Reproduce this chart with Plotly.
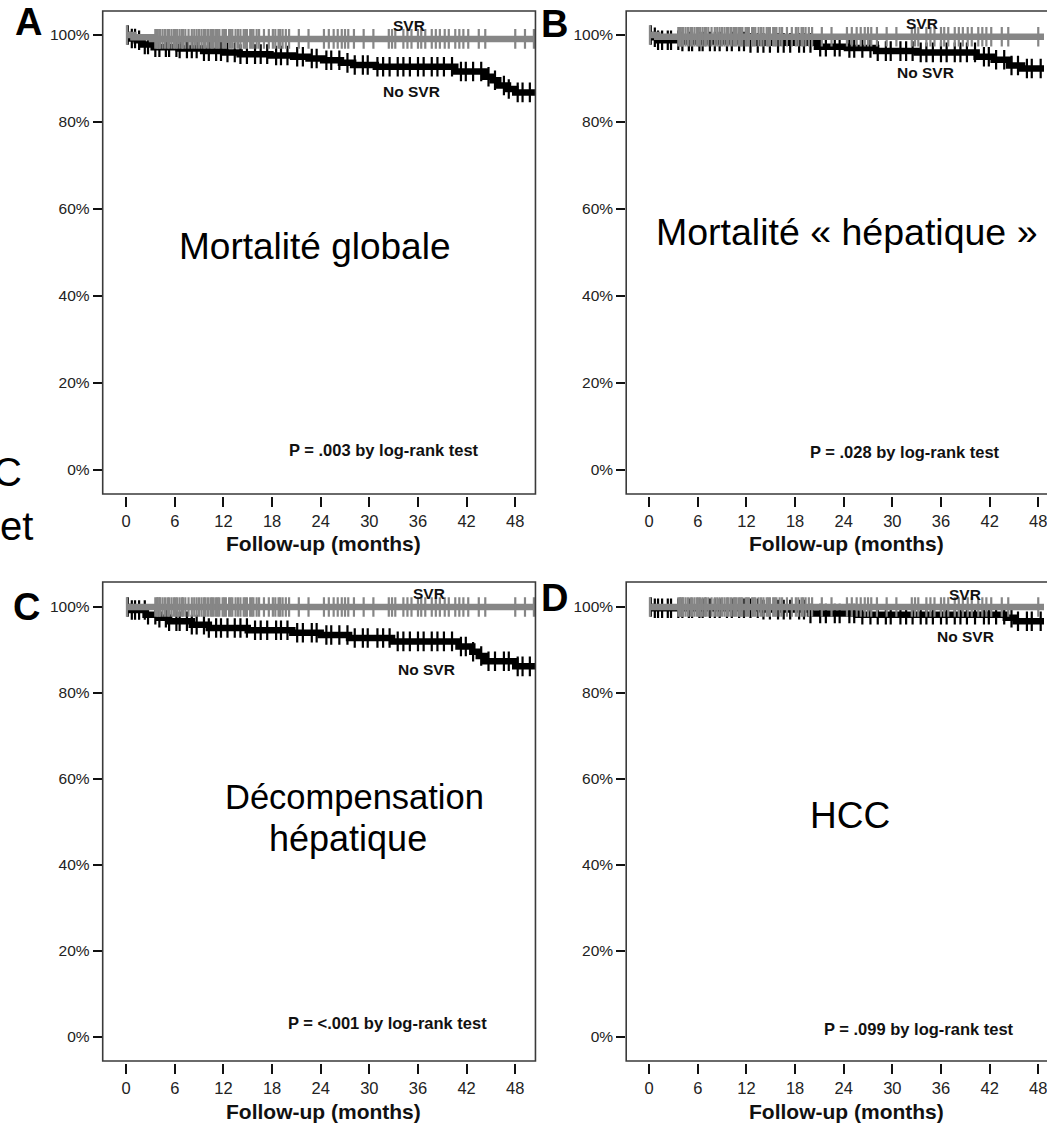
import numpy as np
import plotly.graph_objects as go

W, H = 1047, 1125
FONT = "Arial, 'Liberation Sans', sans-serif"

# ---------------- data ----------------
month_ticks = [0, 6, 12, 18, 24, 30, 36, 42, 48]
pct_ticks = [0, 20, 40, 60, 80, 100]
pct_labels = ["0%", "20%", "40%", "60%", "80%", "100%"]
follow_end = 50.5

# Kaplan-Meier steps (months, % event-free)
A_svr_t = [0, 0.9, 3.2]
A_svr_s = [100, 99.5, 99.1]
A_nosvr_t = [0, 0.4, 1.3, 1.9, 3.4, 6.5, 9.5, 12.0, 14.0, 17.8, 20.6, 22.5, 24.3, 26.5, 28.0,
             30.8, 40.6, 44.3, 45.2, 45.9, 47.1, 48.0]
A_nosvr_s = [100, 99.2, 98.8, 97.8, 97.2, 96.9, 96.3, 96.0, 95.6, 95.3, 95.0, 94.6, 94.2, 93.6, 93.1,
             92.7, 91.6, 90.4, 89.6, 88.4, 87.6, 86.8]

B_svr_t = [0, 1.0]
B_svr_s = [100, 99.6]
B_nosvr_t = [0, 0.5, 1.1, 4.0, 12.0, 20.7, 24.4, 28.0, 33.0, 40.4, 42.5, 44.4, 46.0]
B_nosvr_s = [100, 99.5, 98.8, 98.5, 98.2, 97.3, 97.0, 96.3, 96.0, 95.0, 94.3, 93.0, 92.3]

C_svr_t = [0]
C_svr_s = [100]
C_nosvr_t = [0, 0.5, 2.4, 4.0, 5.3, 8.1, 10.2, 15.0, 20.5, 24.0, 27.5, 32.8, 41.0, 42.7, 43.5,
             44.3, 48.0]
C_nosvr_s = [100, 99.3, 98.2, 97.5, 96.7, 95.9, 95.1, 94.6, 94.0, 93.5, 92.8, 92.0, 90.8, 89.6, 88.6,
             87.4, 86.2]

D_svr_t = [0]
D_svr_s = [100]
D_nosvr_t = [0, 0.5, 14.0, 19.9, 25.6, 44.0, 45.2]
D_nosvr_s = [100, 99.7, 99.4, 98.5, 98.2, 97.5, 96.7]

# censoring times (months)
svr_censor = [0.1, 3.6, 3.8, 3.9, 4.1, 4.2, 4.5, 4.8, 5.1, 5.3, 5.6, 5.9, 6.1, 6.3, 6.6, 6.9,
              7.0, 7.3, 7.7, 8.1, 8.4, 8.7, 9.0, 9.3, 9.6, 9.8, 10.1, 10.4, 10.6, 10.8, 11.1,
              11.3, 11.5, 11.9, 12.1, 12.3, 12.7, 12.9, 13.1, 13.5, 13.8, 14.1, 14.5, 14.7,
              14.9, 15.3, 15.5, 15.7, 16.1, 16.4, 17.0, 17.6, 18.1, 18.4, 18.8, 19.0, 19.3,
              19.7, 20.1, 21.3, 22.5, 24.4, 25.0, 25.6, 26.1, 26.6, 27.0, 27.4, 28.1, 29.3,
              30.5, 32.4, 32.8, 33.2, 34.2, 34.7, 35.2, 36.0, 36.4, 36.9, 37.7, 38.2, 38.7,
              39.3, 39.8, 40.6, 41.1, 41.6, 42.2, 43.5, 44.3, 48.0, 49.2, 50.3]
nosvr_censor = [0.2, 0.7, 1.1, 1.6, 2.3, 2.7, 3.6, 4.1, 4.9, 5.3, 6.2, 6.6, 7.5, 8.1, 8.7, 9.6,
                10.2, 11.1, 11.7, 12.5, 13.4, 14.1, 14.9, 15.9, 16.6, 17.4, 18.5, 19.1, 19.9,
                21.1, 21.8, 22.9, 23.5, 24.7, 25.3, 26.3, 27.3, 28.2, 29.2, 29.8, 31.0, 31.7,
                32.5, 33.5, 34.2, 35.0, 36.0, 36.7, 37.7, 38.4, 39.2, 40.2, 41.3, 41.9, 42.8,
                43.8, 44.7, 45.5, 46.6, 47.2, 48.3, 48.9, 49.8]

panel_letters = ["A", "B", "C", "D"]
p_texts = ["P = .003 by log-rank test", "P = .028 by log-rank test",
           "P = <.001 by log-rank test", "P = .099 by log-rank test"]
x_title = "Follow-up (months)"

curves = [
    (A_svr_t, A_svr_s, A_nosvr_t, A_nosvr_s),
    (B_svr_t, B_svr_s, B_nosvr_t, B_nosvr_s),
    (C_svr_t, C_svr_s, C_nosvr_t, C_nosvr_s),
    (D_svr_t, D_svr_s, D_nosvr_t, D_nosvr_s),
]

# ---------------- geometry (pixels) ----------------
PXM = 8.13          # px per month
panels = [
    # frame left/right/top/bottom, x of month 0, y of 100 %, y of 0 %
    dict(l=103, r=537, t=11, b=494, x0=126.5, y100=35, y0=470),
    dict(l=628, r=1063, t=11, b=494, x0=651, y100=35, y0=470),
    dict(l=103, r=537, t=582, b=1061, x0=126.5, y100=607, y0=1037),
    dict(l=628, r=1063, t=582, b=1061, x0=651, y100=607, y0=1037),
]

GREY = "#868686"
BLACK = "#000000"


def xp(px):
    return px / W


def yp(py):
    return 1 - py / H


def step_value(t, s, c):
    idx = np.searchsorted(np.array(t), np.array(c), side="right") - 1
    return np.array(s)[idx]


fig = go.Figure()
layout = {}
shapes = []
annotations = []

for i, (g, crv) in enumerate(zip(panels, curves)):
    n = "" if i == 0 else str(i + 1)
    xa, ya = "x" + n, "y" + n
    right_vis = min(g["r"], W)
    pxp = (g["y0"] - g["y100"]) / 100.0
    x_range = [(g["l"] - g["x0"]) / PXM, (right_vis - g["x0"]) / PXM]
    y_range = [(g["y0"] - g["b"]) / pxp, (g["y0"] - g["t"]) / pxp]

    layout["xaxis" + n] = dict(
        domain=[xp(g["l"]), xp(right_vis)], range=x_range, anchor="free",
        position=yp(g["b"] + 2), showline=False, showgrid=False, zeroline=False,
        tickvals=month_ticks, ticks="outside", ticklen=10, tickwidth=2, tickcolor="#111",
        ticklabeloverflow="allow",
        tickfont=dict(family=FONT, size=16.5, color="#222"), fixedrange=True)
    layout["yaxis" + n] = dict(
        domain=[yp(g["b"]), yp(g["t"])], range=y_range, anchor=xa,
        showline=False, showgrid=False, zeroline=False,
        tickvals=pct_ticks, ticktext=pct_labels, ticks="outside", ticklen=9,
        tickwidth=2, tickcolor="#111",
        tickfont=dict(family=FONT, size=15.5, color="#222"), fixedrange=True)

    st, ss, nt, ns = crv
    for t, s, cens, col in [(nt, ns, nosvr_censor, BLACK), (st, ss, svr_censor, GREY)]:
        fig.add_trace(go.Scatter(
            x=list(t) + [follow_end], y=list(s) + [s[-1]], mode="lines",
            line=dict(color=col, width=6.5, shape="hv"), xaxis=xa, yaxis=ya,
            showlegend=False, hoverinfo="skip"))
        cx = [c for c in cens if c <= follow_end]
        fig.add_trace(go.Scatter(
            x=cx, y=step_value(t, s, cx), mode="markers",
            marker=dict(symbol="line-ns", size=14, line=dict(color=col, width=2.2)),
            xaxis=xa, yaxis=ya, showlegend=False, hoverinfo="skip"))

    shapes.append(dict(type="rect", xref="paper", yref="paper",
                       x0=xp(g["l"]), x1=xp(g["r"]), y0=yp(g["b"]), y1=yp(g["t"]),
                       line=dict(color="#3a3a3a", width=1.6), layer="above"))


def ann(text, x, y, size, bold=False, color="#111", xanchor="center"):
    annotations.append(dict(
        text=("<b>%s</b>" % text) if bold else text, x=xp(x), y=yp(y),
        xref="paper", yref="paper", showarrow=False, xanchor=xanchor, yanchor="middle",
        font=dict(family=FONT, size=size, color=color)))


# panel letters
for letter, (x, y) in zip(panel_letters, [(29, 22), (556, 24), (27, 607), (556, 598)]):
    ann(letter, x, y, 38, bold=True, color="#000")

# SVR / No SVR labels
for (sx, sy, nx, ny) in [(410, 26, 413, 91), (925, 24, 928, 72),
                         (430, 593, 428, 669), (968, 594, 968, 636)]:
    ann("SVR", sx, sy, 15.5, bold=True)
    ann("No SVR", nx, ny, 15.5, bold=True)

# p-values
for txt, (x, y) in zip(p_texts, [(385, 450), (908, 452), (389, 1023), (922, 1029)]):
    ann(txt, x, y, 16.5, bold=True)

# x-axis titles
for (x, y) in [(324, 543), (849, 543), (324, 1111), (849, 1111)]:
    ann(x_title, x, y, 21, bold=True)

# big overlay titles
ann("Mortalité globale", 315, 247, 37, color="#000")
ann("Mortalité « hépatique »", 849, 232, 37.5, color="#000")
ann("Décompensation", 356, 797, 34.5, color="#000")
ann("hépatique", 349, 838, 36, color="#000")
ann("HCC", 852, 815, 37, color="#000")

# stray slide text at left edge
ann("C", 24, 472, 40, color="#000", xanchor="right")
ann("et", -2, 526, 40, color="#000", xanchor="left")

fig.update_layout(
    width=W, height=H, margin=dict(l=0, r=0, t=0, b=0),
    paper_bgcolor="white", plot_bgcolor="white",
    shapes=shapes, annotations=annotations, showlegend=False, **layout)

fig.write_html("out.html",
               config={"displayModeBar": False},
               post_script="document.body.style.margin='0px';"
                           "document.body.style.overflow='hidden';")
